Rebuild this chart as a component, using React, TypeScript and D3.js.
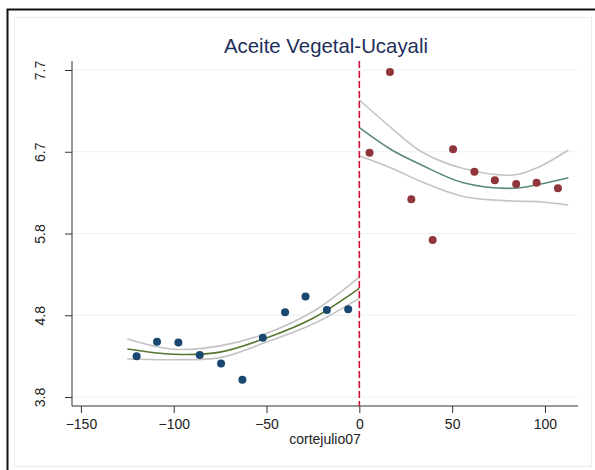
import React, { useRef, useEffect } from 'react';
import * as d3 from 'd3';

// before the cut (cortejulio07 < 0)
const preX = [-120, -109, -97.5, -86, -74.5, -63, -52, -40, -29, -17.5, -6];
const preY = [4.285, 4.46, 4.45, 4.3, 4.2, 4.006, 4.507, 4.81, 5.0, 4.838, 4.846];

// after the cut
const postX = [5.5, 16.5, 28, 39.5, 50.5, 62, 73, 84.5, 95.5, 107];
const postY = [6.714, 7.676, 6.158, 5.672, 6.754, 6.487, 6.384, 6.34, 6.356, 6.289];

// quadratic fit and 95% CI
const preFitX = [-125, -100, -75, -50, -25, 0];
const preFit = [4.372, 4.31, 4.335, 4.505, 4.74, 5.096];
const preHi = [4.492, 4.37, 4.41, 4.56, 4.82, 5.231];
const preLo = [4.253, 4.245, 4.27, 4.455, 4.67, 4.977];

const postFitX = [0, 17.5, 33.5, 56, 83, 97, 112.6];
const postFit = [7.012, 6.746, 6.567, 6.355, 6.289, 6.337, 6.415];
const postHi = [7.342, 7.005, 6.725, 6.525, 6.448, 6.547, 6.746];
const postLo = [6.678, 6.528, 6.368, 6.192, 6.137, 6.129, 6.09];

const yTicks = [3.8, 4.775, 5.75, 6.725, 7.7];
const yTickLabels = ['3.8', '4.8', '5.8', '6.7', '7.7'];
const xTicks = [-150, -100, -50, 0, 50, 100];

const Chart = ({ width, height }) => {
  const svgRef = useRef();

  useEffect(() => {
    const svg = d3.select(svgRef.current);
    svg.selectAll('*').remove();

    const font = 'Arial, "Liberation Sans", Helvetica, sans-serif';
    const left = 72, right = 578, top = 61, bottom = 406;

    const x = d3.scaleLinear().domain([-154.8, 117.8]).range([left, right]);
    const y = d3.scaleLinear().domain([3.8, 7.7]).range([397, 70]);

    svg.append('rect').attr('width', width).attr('height', height).attr('fill', '#fff');
    // outer frame
    svg.append('rect')
      .attr('x', 7.5).attr('y', 9.5).attr('width', 600).attr('height', 480)
      .attr('fill', 'none').attr('stroke', '#111').attr('stroke-width', 2);
    svg.append('rect')
      .attr('x', 14.5).attr('y', 17.5).attr('width', 577).attr('height', 449)
      .attr('fill', 'none').attr('stroke', '#e6eef0').attr('stroke-width', 1);

    // gridlines
    svg.append('g').selectAll('line').data(yTicks).join('line')
      .attr('x1', left).attr('x2', right)
      .attr('y1', d => y(d)).attr('y2', d => y(d))
      .attr('stroke', '#eaf2f3').attr('stroke-width', 1);

    // axes
    const gy = svg.append('g').attr('transform', `translate(${left},0)`)
      .call(d3.axisLeft(y).tickValues(yTicks).tickFormat((d, i) => yTickLabels[i]).tickSize(7));
    gy.select('.domain').attr('d', `M0,${top}V${bottom}`).attr('stroke', '#333');
    gy.selectAll('.tick line').attr('stroke', '#333');
    gy.selectAll('.tick text')
      .attr('font-family', font).attr('font-size', 14).attr('fill', '#222')
      .attr('text-anchor', 'middle').attr('dy', 0)
      .attr('transform', 'rotate(-90)')
      .attr('x', 0).attr('y', -27);

    const gx = svg.append('g').attr('transform', `translate(0,${bottom})`)
      .call(d3.axisBottom(x).tickValues(xTicks).tickFormat(d3.format('d')).tickSize(7).tickPadding(6));
    gx.select('.domain').attr('d', `M${left},0H${right}`).attr('stroke', '#333');
    gx.selectAll('.tick line').attr('stroke', '#333');
    gx.selectAll('.tick text')
      .attr('font-family', font).attr('font-size', 14).attr('fill', '#222');

    // fits
    const curve = (xs, ys, color) => {
      svg.append('path').datum(xs.map((d, i) => [d, ys[i]]))
        .attr('fill', 'none').attr('stroke', color).attr('stroke-width', 1.6)
        .attr('d', d3.line().x(d => x(d[0])).y(d => y(d[1])).curve(d3.curveCatmullRom));
    };
    curve(preFitX, preHi, '#c3c3c3');
    curve(preFitX, preLo, '#c3c3c3');
    curve(preFitX, preFit, '#55752f');
    curve(postFitX, postHi, '#c3c3c3');
    curve(postFitX, postLo, '#c3c3c3');
    curve(postFitX, postFit, '#5a8a74');

    // cutoff
    svg.append('line')
      .attr('x1', x(0)).attr('x2', x(0)).attr('y1', top).attr('y2', bottom)
      .attr('stroke', '#d0103a').attr('stroke-width', 1.6).attr('stroke-dasharray', '7,3');

    // points
    svg.append('g').selectAll('circle').data(preX.map((d, i) => [d, preY[i]])).join('circle')
      .attr('cx', d => x(d[0])).attr('cy', d => y(d[1])).attr('r', 4)
      .attr('fill', '#1a476f');
    svg.append('g').selectAll('circle').data(postX.map((d, i) => [d, postY[i]])).join('circle')
      .attr('cx', d => x(d[0])).attr('cy', d => y(d[1])).attr('r', 4)
      .attr('fill', '#90353b');

    // title + axis label
    svg.append('text')
      .attr('x', 326).attr('y', 53).attr('text-anchor', 'middle')
      .attr('font-family', font).attr('font-size', 20.4).attr('fill', '#1e2f5a')
      .text('Aceite Vegetal-Ucayali');
    svg.append('text')
      .attr('x', 325).attr('y', 444).attr('text-anchor', 'middle')
      .attr('font-family', font).attr('font-size', 14).attr('fill', '#222')
      .text('cortejulio07');
  }, [width, height]);

  return <svg ref={svgRef} width={width} height={height} style={{ position: 'absolute', left: 0, top: 0 }} />;
};

export default function App() {
  return <Chart width={595} height={470} />;
}
